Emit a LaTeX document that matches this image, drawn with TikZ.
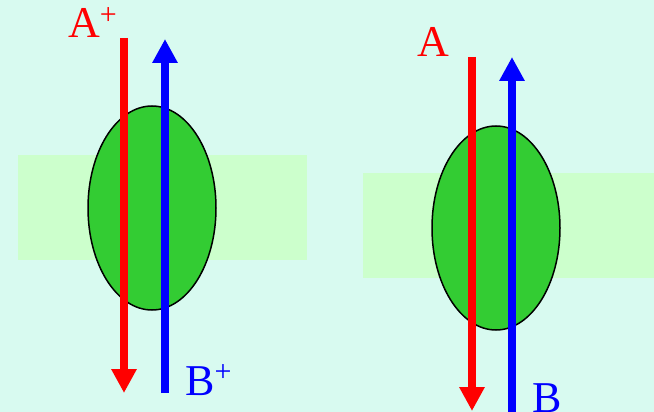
\documentclass[tikz,border=0pt]{standalone}
\usepackage{fontspec}
\setmainfont{Liberation Serif}
\usetikzlibrary{arrows.meta,shapes.geometric}
\definecolor{bgc}{RGB}{216,250,240}
\definecolor{memb}{RGB}{204,255,204}
\definecolor{prot}{RGB}{51,204,51}
\tikzset{
  membrane/.style={fill=memb,draw=none},
  protein/.style={ellipse,fill=prot,draw=black,line width=1.5pt,minimum width=128pt,minimum height=204pt,inner sep=0pt},
  redarrow/.style={draw=red,line width=8pt,-{Triangle[width=24pt,length=24pt]}},
  bluearrow/.style={draw=blue,line width=8pt,-{Triangle[width=24pt,length=24pt]}},
  lbl/.style={font=\fontsize{44}{44}\selectfont,inner sep=0pt,anchor=base west},
}
\newcommand{\supplus}{\raisebox{0.3em}{\fontsize{30}{30}\selectfont +}}
\begin{document}
\begin{tikzpicture}[x=1pt,y=-1pt]
\fill[bgc] (0,0) rectangle (654,412);
\useasboundingbox (0,0) rectangle (654,412);
% left
\fill[membrane] (18,155) rectangle (307,260);
\node[protein] (p1) at (152,208) {};
\coordinate (r1s) at (124,38);
\coordinate (r1e) at (124,393);
\coordinate (b1s) at (165,393);
\coordinate (b1e) at (165,39);
\draw[redarrow] (r1s) -- (r1e);
\draw[bluearrow] (b1s) -- (b1e);
\node[lbl,text=red] (la1) at (68,38) {A\supplus};
\node[lbl,text=blue] (lb1) at (185,395) {B\supplus};
% right
\fill[membrane] (363,173) rectangle (654,278);
\node[protein] (p2) at (496,228) {};
\coordinate (r2s) at (472,57);
\coordinate (r2e) at (472,411);
\coordinate (b2s) at (512,420);
\coordinate (b2e) at (512,57);
\draw[redarrow] (r2s) -- (r2e);
\draw[bluearrow] (b2s) -- (b2e);
\node[lbl,text=red] (la2) at (417,57) {A};
\node[lbl,text=blue] (lb2) at (532,412) {B};
\end{tikzpicture}
\end{document}
